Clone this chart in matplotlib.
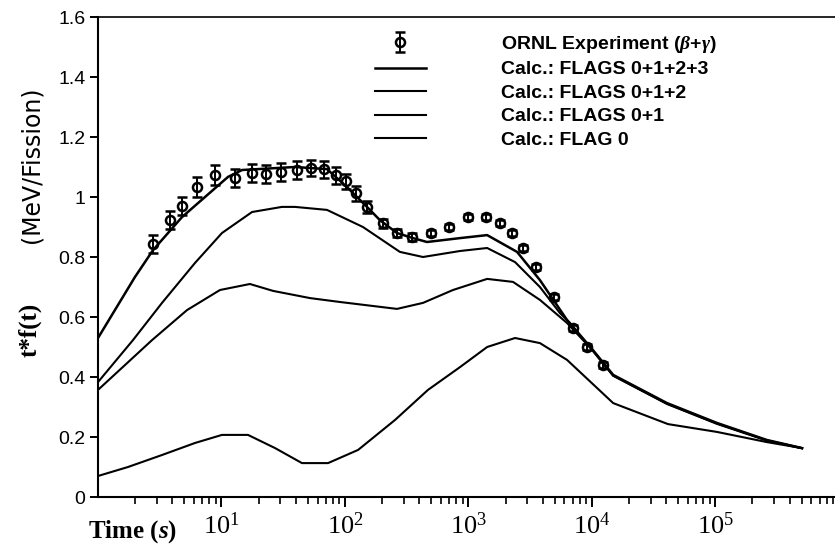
import matplotlib
matplotlib.use("Agg")
import matplotlib.pyplot as plt
from matplotlib.ticker import LogLocator, NullFormatter

plt.rcParams["mathtext.fontset"] = "custom"
plt.rcParams["mathtext.rm"] = "Liberation Serif"
plt.rcParams["mathtext.it"] = "Liberation Serif:italic:bold"
plt.rcParams["mathtext.bf"] = "Liberation Serif:bold"

# ORNL measurement, t*f(t) in MeV/fission
t_exp = [2.8, 3.8, 4.8, 6.3, 8.9, 12.9, 17.7, 22.9, 30.4, 40.9, 53, 68, 85, 102, 123, 151,
         204, 264, 350, 498, 697, 993, 1390, 1800, 2260, 2770, 3530, 4940, 7040, 9140, 12300]
f_exp = [0.843, 0.923, 0.97, 1.033, 1.073, 1.063, 1.08, 1.077, 1.083, 1.09, 1.097, 1.093, 1.073,
         1.053, 1.013, 0.967, 0.913, 0.88, 0.867, 0.88, 0.90, 0.933, 0.933, 0.913, 0.88, 0.83,
         0.767, 0.667, 0.563, 0.50, 0.44]
err_exp = [0.03, 0.03, 0.03, 0.033, 0.033, 0.03, 0.03, 0.03, 0.03, 0.03, 0.028, 0.028, 0.028,
           0.025, 0.025, 0.02, 0.015, 0.012, 0.012, 0.01, 0.01, 0.01, 0.01, 0.01, 0.01, 0.01,
           0.01, 0.01, 0.01, 0.01, 0.01]

# calculations
t_f0123 = [1, 1.99, 2.79, 4.79, 7.36, 11.3, 14.7, 39.4, 71.6, 104, 151, 192, 264, 356, 462,
           856, 1420, 2480, 3800, 6300, 10200, 14900, 40700, 103000, 262000, 505000]
f_f0123 = [0.53, 0.733, 0.823, 0.933, 1.0, 1.067, 1.09, 1.10, 1.093, 1.033, 0.967, 0.923, 0.88,
           0.863, 0.85, 0.863, 0.873, 0.817, 0.723, 0.59, 0.49, 0.407, 0.313, 0.247, 0.19, 0.163]

t_f012 = [1, 1.92, 3.30, 6.1, 10.1, 17.7, 30.9, 39.4, 71.6, 140, 279, 429, 856, 1420, 2390,
          3800, 5520, 6660, 10200, 14900, 40700, 103000, 262000, 505000]
f_f012 = [0.383, 0.523, 0.647, 0.78, 0.88, 0.95, 0.967, 0.967, 0.957, 0.90, 0.817, 0.80, 0.82,
          0.83, 0.783, 0.70, 0.613, 0.58, 0.487, 0.404, 0.31, 0.244, 0.188, 0.162]

t_f01 = [1, 2.74, 5.26, 9.73, 17.0, 26.2, 52.2, 91.3, 264, 429, 751, 1420, 2300, 3800, 6300,
         10200, 14900, 40700, 103000, 262000, 505000]
f_f01 = [0.357, 0.523, 0.623, 0.69, 0.71, 0.687, 0.663, 0.65, 0.627, 0.647, 0.69, 0.727, 0.717,
         0.657, 0.58, 0.488, 0.405, 0.311, 0.245, 0.189, 0.163]

t_f0 = [1, 1.75, 3.30, 6.1, 10.1, 16.4, 27.2, 44.9, 73, 128, 255, 471, 856, 1420, 2390, 3800,
        6300, 14900, 41400, 103000, 262000, 505000]
f_f0 = [0.07, 0.10, 0.14, 0.18, 0.207, 0.207, 0.163, 0.113, 0.113, 0.157, 0.257, 0.357, 0.433,
        0.50, 0.53, 0.513, 0.457, 0.313, 0.243, 0.217, 0.183, 0.163]

y_ticks = [0, 0.2, 0.4, 0.6, 0.8, 1.0, 1.2, 1.4, 1.6]
y_ticklabels = ["0", "0.2", "0.4", "0.6", "0.8", "1", "1.2", "1.4", "1.6"]
x_ticks = [1e1, 1e2, 1e3, 1e4, 1e5]
x_ticklabels = [r"$10^{1}$", r"$10^{2}$", r"$10^{3}$", r"$10^{4}$", r"$10^{5}$"]

fig = plt.figure(figsize=(8.35, 5.47), dpi=100)
ax = fig.add_axes([98 / 835, 50 / 547, 737 / 835, 480 / 547])
ax.set_xscale("log")
ax.set_xlim(1, 10 ** 5.97)
ax.set_ylim(0, 1.6)

lw = 1.5
l0123, = ax.plot(t_f0123, f_f0123, color="k", lw=lw + 0.3)
l012, = ax.plot(t_f012, f_f012, color="k", lw=lw)
l01, = ax.plot(t_f01, f_f01, color="k", lw=lw)
l0, = ax.plot(t_f0, f_f0, color="k", lw=lw)
eb = ax.errorbar(t_exp, f_exp, yerr=err_exp, fmt="o", mfc="none", mec="k", ms=6.5, mew=1.8,
                 ecolor="k", elinewidth=1.4, capsize=3.5, capthick=1.4, color="k", zorder=5)

for side in ("left", "bottom"):
    ax.spines[side].set_linewidth(1.5)
ax.spines["top"].set_linewidth(1.2)
ax.spines["right"].set_visible(False)

ax.set_yticks(y_ticks, y_ticklabels)
ax.set_xticks(x_ticks, x_ticklabels)
ax.xaxis.set_minor_locator(LogLocator(base=10, subs=range(2, 10), numticks=20))
ax.xaxis.set_minor_formatter(NullFormatter())
ax.tick_params(axis="x", which="major", direction="out", length=7, width=1.4, pad=5, labelsize=19)
ax.tick_params(axis="x", which="minor", direction="out", length=5, width=1.2)
ax.tick_params(axis="y", direction="out", length=6, width=1.4, pad=3, labelsize=14)
for lbl in ax.get_yticklabels():
    lbl.set_fontfamily("Liberation Sans")

fig.text(31 / 835, 1 - 165 / 547, "(MeV/Fission)", rotation=90, ha="center", va="center",
         fontsize=17, family="DejaVu Sans")
fig.text(30 / 835, 1 - 330 / 547, "t*f(t)", rotation=90, ha="center", va="center",
         fontsize=18, family="Liberation Serif", weight="bold")
fig.text(88 / 835, 1 - 538 / 547, r"Time ($s$)", ha="left", va="baseline",
         fontsize=18, family="Liberation Serif", weight="bold")

handles = [eb, l0123, l012, l01, l0]
labels = [r"ORNL Experiment ($\beta$+$\gamma$)", "Calc.: FLAGS 0+1+2+3", "Calc.: FLAGS 0+1+2",
          "Calc.: FLAGS 0+1", "Calc.: FLAG 0"]
ax.legend(handles, labels, loc="upper left", bbox_to_anchor=(375 / 835, 1 - 34 / 547),
          bbox_transform=fig.transFigure, frameon=False, borderpad=0, borderaxespad=0,
          handlelength=2.6, handletextpad=3.9, labelspacing=0.3,
          prop={"family": "Liberation Sans", "weight": "bold", "size": 14})

fig.savefig("out.png", dpi=100)
